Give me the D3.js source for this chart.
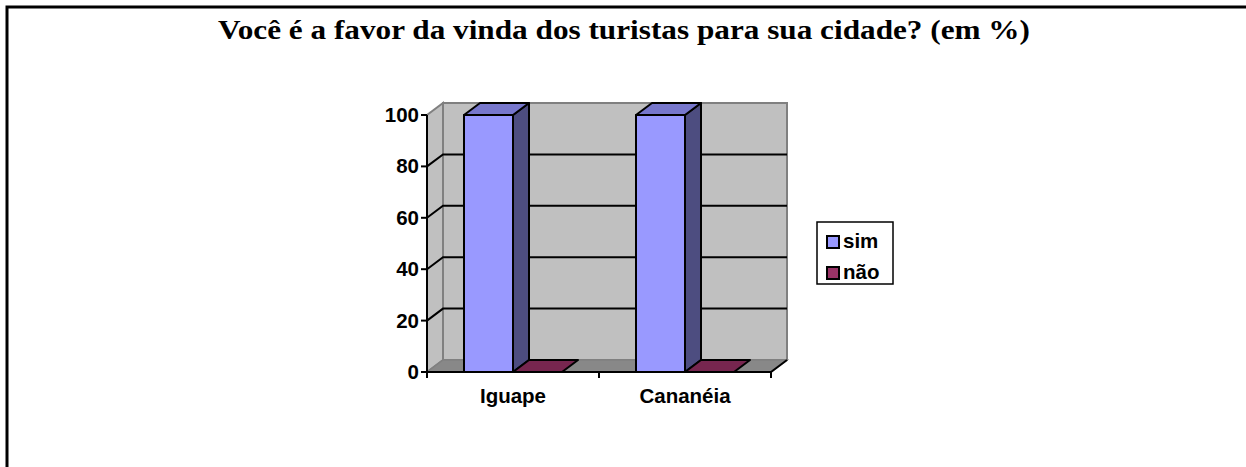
<!DOCTYPE html>
<html><head><meta charset="utf-8">
<script src="https://cdn.jsdelivr.net/npm/d3@7"></script>
<style>body{margin:0;background:#fff}svg{display:block}</style>
</head><body><svg id="c" width="1246" height="467"></svg>
<script>
const title = "Você é a favor da vinda dos turistas para sua cidade? (em %)";
const categories = ["Iguape", "Cananéia"];
const seriesNames = ["sim", "não"];
const simValues = [100, 100];
const naoValues = [0, 0];
const yTicks = [0, 20, 40, 60, 80, 100];

const colors = {
  sim: {front: "#9999ff", side: "#4d4d80", top: "#7777cc"},
  "não": {front: "#993366", side: "#4d1a33", top: "#77264f"}
};

const svg = d3.select("#c");

// outer border
svg.append("rect").attr("x", 7).attr("y", 7).attr("width", 1300).attr("height", 600)
  .attr("fill", "none").attr("stroke", "#000").attr("stroke-width", 3);

svg.append("text").attr("x", 218).attr("y", 39)
  .attr("textLength", 812).attr("lengthAdjust", "spacingAndGlyphs")
  .attr("font-family", "'Liberation Serif','Times New Roman',serif").attr("font-weight", "bold")
  .attr("font-size", 27.5).text(title);

const x0 = 427, x1 = 771, dx = 16, dy = 12;
const y = d3.scaleLinear().domain([0, 100]).range([372, 115]);
const x = d3.scaleBand().domain(categories).range([x0, x1]).padding(0);
const xs = d3.scaleBand().domain(seriesNames).range([0, x.bandwidth()]).paddingInner(0).paddingOuter(0.755);

const g = svg.append("g");
const poly = pts => pts.map(p => p.join(",")).join(" ");
const yB = y(0), yT = y(100);

// back wall
g.append("polygon").attr("points", poly([[x0+dx, yT-dy],[x1+dx, yT-dy],[x1+dx, yB-dy],[x0+dx, yB-dy]]))
  .attr("fill", "#c0c0c0").attr("stroke", "#808080").attr("stroke-width", 2);
// side wall
g.append("polygon").attr("points", poly([[x0, yB],[x0+dx, yB-dy],[x0+dx, yT-dy],[x0, yT]]))
  .attr("fill", "#c0c0c0").attr("stroke", "#808080").attr("stroke-width", 2);

// gridlines
yTicks.filter(v => v > 0 && v < 100).forEach(v => {
  g.append("polyline").attr("points", poly([[x0, y(v)],[x0+dx, y(v)-dy],[x1+dx, y(v)-dy]]))
    .attr("fill", "none").attr("stroke", "#000").attr("stroke-width", 2);
});

// floor
g.append("polygon").attr("points", poly([[x0, yB],[x1, yB],[x1+dx, yB-dy],[x0+dx, yB-dy]]))
  .attr("fill", "#888888").attr("stroke", "#808080").attr("stroke-width", 1.5);
g.append("line").attr("x1", x1).attr("y1", yB).attr("x2", x1+dx).attr("y2", yB-dy)
  .attr("stroke", "#000").attr("stroke-width", 2);

// bars
const data = [];
categories.forEach((c, i) => {
  data.push({cat: c, s: "sim", v: simValues[i]});
  data.push({cat: c, s: "não", v: naoValues[i]});
});
data.forEach(d => {
  const bx = x(d.cat) + xs(d.s), bw = xs.bandwidth();
  const top = y(d.v);
  const col = colors[d.s];
  if (d.v > 0) {
    g.append("polygon").attr("points", poly([[bx, top],[bx+bw, top],[bx+bw, yB],[bx, yB]]))
      .attr("fill", col.front).attr("stroke", "#000").attr("stroke-width", 2).attr("stroke-linejoin", "round");
    g.append("polygon").attr("points", poly([[bx+bw, top],[bx+bw+dx, top-dy],[bx+bw+dx, yB-dy],[bx+bw, yB]]))
      .attr("fill", col.side).attr("stroke", "#000").attr("stroke-width", 2).attr("stroke-linejoin", "round");
  }
  g.append("polygon").attr("points", poly([[bx, top],[bx+dx, top-dy],[bx+bw+dx, top-dy],[bx+bw, top]]))
    .attr("fill", col.top).attr("stroke", "#000").attr("stroke-width", 2).attr("stroke-linejoin", "round");
});

// axes
const font = "'Liberation Sans',Arial,sans-serif";
const fs = 20.5;
g.append("line").attr("x1", x0).attr("y1", yT).attr("x2", x0).attr("y2", yB+1)
  .attr("stroke", "#000").attr("stroke-width", 2);
g.append("line").attr("x1", x0-1).attr("y1", yB).attr("x2", x1).attr("y2", yB)
  .attr("stroke", "#000").attr("stroke-width", 2);
yTicks.forEach(v => {
  g.append("line").attr("x1", x0-6).attr("x2", x0).attr("y1", y(v)).attr("y2", y(v))
    .attr("stroke", "#000").attr("stroke-width", 2);
  g.append("text").attr("x", 419).attr("y", y(v) + 7).attr("text-anchor", "end")
    .attr("font-family", font).attr("font-weight", "bold").attr("font-size", fs).text(v);
});
[x0, ...categories.map(c => x(c) + x.bandwidth())].forEach(t => {
  g.append("line").attr("x1", t).attr("x2", t).attr("y1", yB).attr("y2", yB+6)
    .attr("stroke", "#000").attr("stroke-width", 2);
});
categories.forEach(c => {
  g.append("text").attr("x", x(c) + x.bandwidth()/2).attr("y", 403).attr("text-anchor", "middle")
    .attr("font-family", font).attr("font-weight", "bold").attr("font-size", fs).text(c);
});

// legend
const lg = svg.append("g");
lg.append("rect").attr("x", 817).attr("y", 222).attr("width", 76).attr("height", 62)
  .attr("fill", "#fff").attr("stroke", "#000").attr("stroke-width", 1.5);
seriesNames.forEach((s, i) => {
  const cy = 242 + i * 31;
  lg.append("rect").attr("x", 827).attr("y", cy - 6).attr("width", 12).attr("height", 12)
    .attr("fill", colors[s].front).attr("stroke", "#000").attr("stroke-width", 2);
  lg.append("text").attr("x", 843).attr("y", cy + 6).attr("font-family", font)
    .attr("font-weight", "bold").attr("font-size", fs).text(s);
});
</script></body></html>
